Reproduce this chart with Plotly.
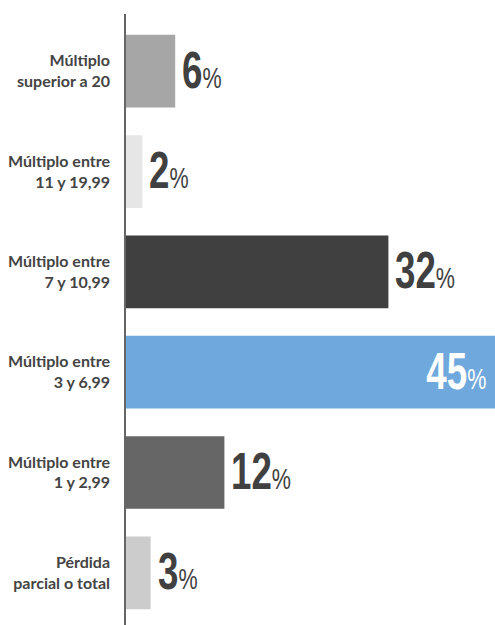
import json
import plotly.graph_objects as go

# Distribution of outcomes by return multiple
categories = [
    "Múltiplo<br>superior a 20",
    "Múltiplo entre<br>11 y 19,99",
    "Múltiplo entre<br>7 y 10,99",
    "Múltiplo entre<br>3 y 6,99",
    "Múltiplo entre<br>1 y 2,99",
    "Pérdida<br>parcial o total",
]
values = [6, 2, 32, 45, 12, 3]
colors = ["#a6a6a6", "#e6e6e6", "#404040", "#6fa8dc", "#666666", "#cccccc"]
inside = [False, False, False, True, False, False]

fig = go.Figure(
    go.Bar(
        x=values,
        y=categories,
        orientation="h",
        marker=dict(color=colors, line=dict(width=0)),
        hoverinfo="skip",
    )
)

num_font = dict(family="Liberation Sans", size=51, color="#404040")
for cat, val, ins in zip(categories, values, inside):
    txt = f"<b>{val}</b><span style='font-size:30px'>%</span>"
    fig.add_annotation(
        x=val, y=cat, xref="x", yref="y",
        text=txt, showarrow=False,
        xanchor="right" if ins else "left",
        xshift=-7 if ins else 5,
        yshift=1,
        font=dict(num_font, color="#ffffff" if ins else "#404040"),
    )

fig.update_layout(
    width=495, height=625,
    margin=dict(l=126, r=0, t=14, b=0),
    paper_bgcolor="white", plot_bgcolor="white",
    bargap=0.275,
    showlegend=False,
    xaxis=dict(range=[0, 45], visible=False, fixedrange=True),
    yaxis=dict(
        autorange=False,
        range=[5.52, -0.57],
        showline=True, linecolor="#666666", linewidth=1.5,
        showgrid=False, zeroline=False,
        ticks="", ticklabelstandoff=11,
        tickfont=dict(family="Lato, sans-serif", size=16, color="#444444", weight="bold"),
        fixedrange=True,
    ),
)

# Narrow the value labels horizontally (condensed look), anchored at the bar side
condense_js = """
var gd = document.getElementById('{plot_id}');
var inside = %s;
gd.querySelectorAll('.annotation-text').forEach(function (t, i) {
  t.style.transformBox = 'fill-box';
  t.style.transformOrigin = (inside[i] ? 'right' : 'left') + ' center';
  t.style.transform = 'scaleX(0.72)';
});
""" % json.dumps(inside)

fig.write_html("out.html", config={"displayModeBar": False}, post_script=condense_js)
